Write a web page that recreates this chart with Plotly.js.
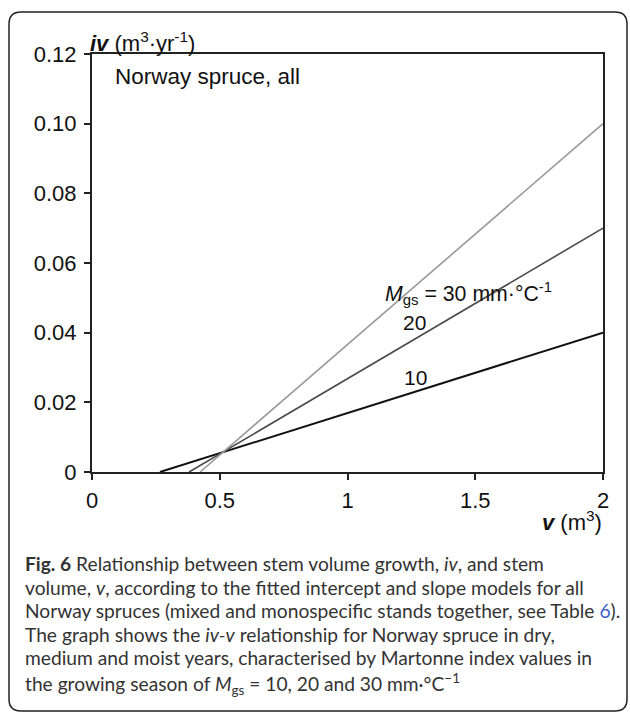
<!DOCTYPE html>
<html>
<head>
<meta charset="utf-8">
<script src="https://cdn.plot.ly/plotly-3.0.1.min.js"></script>
<style>html,body{margin:0;padding:0;background:#fff;}#chart{width:630px;height:713px;}</style>
</head>
<body>
<div id="chart"></div>
<script>
// Data
const seriesNames = ["10", "20", "30"];
const v10 = [0.266, 2.0];
const iv10 = [0.0, 0.04];
const v20 = [0.38, 2.0];
const iv20 = [0.0, 0.07];
const v30 = [0.423, 2.0];
const iv30 = [0.0, 0.10];
const xTicks = [0, 0.5, 1, 1.5, 2];
const xTickText = ["0", "0.5", "1", "1.5", "2"];
const yTicks = [0, 0.02, 0.04, 0.06, 0.08, 0.10, 0.12];
const yTickText = ["0", "0.02", "0.04", "0.06", "0.08", "0.10", "0.12"];

const captionLines = [
  "<b>Fig. 6</b> Relationship between stem volume growth, <i>iv</i>, and stem",
  "volume, <i>v</i>, according to the fitted intercept and slope models for all",
  "Norway spruces (mixed and monospecific stands together, see Table <span style='color:#3a5fcd'>6</span>).",
  "The graph shows the <i>iv-v</i> relationship for Norway spruce in dry,",
  "medium and moist years, characterised by Martonne index values in",
  "the growing season of <i>M</i><sub>gs</sub> = 10, 20 and 30 mm·°C<sup>−1</sup>"
];
const captionY = [563, 587, 610, 634, 657, 684];

const W = 630, H = 713;
const mL = 92, mR = 27, mT = 54, mB = 241;
const pw = W - mL - mR, ph = H - mT - mB;
const px = x => (x - mL) / pw;
const py = y => (H - mB - y) / ph;

const traces = [
  {x: v10, y: iv10, mode: "lines", name: seriesNames[0], line: {color: "#111111", width: 2}},
  {x: v20, y: iv20, mode: "lines", name: seriesNames[1], line: {color: "#4a4a4a", width: 1.6}},
  {x: v30, y: iv30, mode: "lines", name: seriesNames[2], line: {color: "#9a9a9a", width: 1.6}}
];

// rounded frame
const fl = 9, fr = 627, ft = 12, fb = 711, rr = 12;
const framePath = [
  "M", px(fl + rr), py(ft),
  "L", px(fr - rr), py(ft),
  "Q", px(fr), py(ft), px(fr), py(ft + rr),
  "L", px(fr), py(fb - rr),
  "Q", px(fr), py(fb), px(fr - rr), py(fb),
  "L", px(fl + rr), py(fb),
  "Q", px(fl), py(fb), px(fl), py(fb - rr),
  "L", px(fl), py(ft + rr),
  "Q", px(fl), py(ft), px(fl + rr), py(ft), "Z"
].join(" ");

const fontMain = "Liberation Sans, Arial, sans-serif";
const annotations = [
  {xref: "paper", yref: "paper", x: px(88), y: py(42), xanchor: "left", yanchor: "middle", showarrow: false,
   text: "<b><i>iv</i></b> (m<sup>3</sup>·yr<sup>-1</sup>)", font: {family: fontMain, size: 22, color: "#111"}},
  {xref: "paper", yref: "paper", x: px(604), y: py(521), xanchor: "right", yanchor: "middle", showarrow: false,
   text: "<b><i>v</i></b> (m<sup>3</sup>)", font: {family: fontMain, size: 22, color: "#111"}},
  {xref: "paper", yref: "paper", x: px(113), y: py(76), xanchor: "left", yanchor: "middle", showarrow: false,
   text: "Norway spruce, all", font: {family: fontMain, size: 22.5, color: "#111"}},
  {xref: "x", yref: "y", x: 1.475, y: 0.0512, xanchor: "center", yanchor: "middle", showarrow: false, borderpad: 0,
   text: "<i>M</i><sub>gs</sub> = 30 mm·°C<sup>-1</sup>", font: {family: fontMain, size: 21.3, color: "#111"}},
  {xref: "x", yref: "y", x: 1.264, y: 0.0428, xanchor: "center", yanchor: "middle", showarrow: false, borderpad: 0,
   text: seriesNames[1], font: {family: fontMain, size: 21, color: "#111"}},
  {xref: "x", yref: "y", x: 1.268, y: 0.027, xanchor: "center", yanchor: "middle", showarrow: false, borderpad: 0,
   text: seriesNames[0], font: {family: fontMain, size: 21, color: "#111"}}
];
captionLines.forEach((t, i) => {
  annotations.push({xref: "paper", yref: "paper", x: px(24), y: py(captionY[i]), xanchor: "left", yanchor: "middle",
    showarrow: false, borderpad: 0, text: t, font: {family: "Lato, Open Sans, sans-serif", size: 19.2, color: "#333"}});
});

const layout = {
  width: W, height: H,
  margin: {l: mL, r: mR, t: mT, b: mB},
  paper_bgcolor: "#fff", plot_bgcolor: "#fff",
  showlegend: false,
  font: {family: fontMain, size: 22, color: "#111"},
  xaxis: {range: [0, 2], tickvals: xTicks, ticktext: xTickText, ticks: "outside", ticklen: 6, tickwidth: 2, tickcolor: "#222",
    showline: true, linecolor: "#222", linewidth: 2, mirror: true, showgrid: false, zeroline: false,
    tickfont: {family: fontMain, size: 22, color: "#111"}, ticklabelstandoff: 2, fixedrange: true},
  yaxis: {range: [0, 0.12], tickvals: yTicks, ticktext: yTickText, ticks: "outside", ticklen: 6, tickwidth: 2, tickcolor: "#222",
    showline: true, linecolor: "#222", linewidth: 2, mirror: true, showgrid: false, zeroline: false,
    tickfont: {family: fontMain, size: 22, color: "#111"}, ticklabelstandoff: 3, fixedrange: true},
  shapes: [{type: "path", xref: "paper", yref: "paper", path: framePath, line: {color: "#222", width: 1.5}, layer: "below"}],
  annotations: annotations
};

Plotly.newPlot("chart", traces, layout, {staticPlot: true, displayModeBar: false});
</script>
</body>
</html>
